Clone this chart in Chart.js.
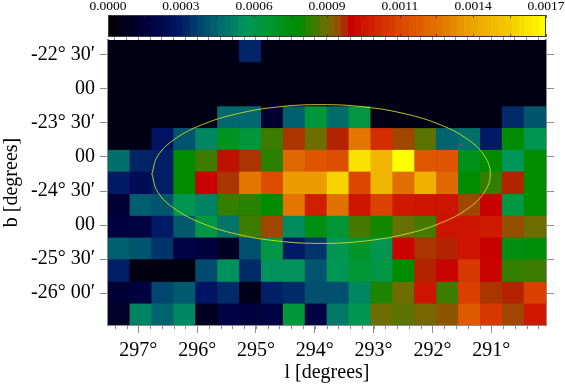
<!DOCTYPE html>
<html>
<head>
<meta charset="utf-8">
<script src="https://cdn.jsdelivr.net/npm/chart.js@4"></script>
<style>
html,body{margin:0;padding:0;background:#fff;overflow:hidden}
#wrap{position:relative;width:565px;height:384px}
canvas{position:absolute;left:0;top:0}
</style>
</head>
<body>
<div id="wrap">
<canvas id="map" width="565" height="384"></canvas>
<canvas id="bar" width="565" height="40"></canvas>
</div>
<script>
const UNIT = 1e-5;
const lonCenters = [297.33,296.96,296.59,296.21,295.84,295.47,295.10,294.73,294.35,293.98,293.61,293.24,292.87,292.49,292.12,291.75,291.38,291.01,290.63,290.26];
const latEdges = [-22.28,-22.60,-22.92,-23.25,-23.57,-23.89,-24.21,-24.54,-24.86,-25.18,-25.50,-25.83,-26.15,-26.47];
const row0  = [5,5,5,5,5,5,30,5,5,5,5,5,5,5,5,5,5,5,5,5];
const row1  = [5,5,5,5,5,5,5,5,5,5,5,5,5,5,5,5,5,5,5,5];
const row2  = [5,5,5,5,5,5,5,5,5,5,5,5,5,5,5,5,5,5,5,5];
const row3  = [5,5,5,5,5,43,43,12,41,60,44,58,5,5,5,5,5,5,31,39];
const row4  = [5,5,27,39,50,66,60,80,91,85,92,129,106,90,83,42,45,28,74,55];
const row5  = [45,30,29,74,80,93,91,78,125,118,116,162,148,170,119,118,68,74,53,74];
const row6  = [28,22,29,74,94,91,129,115,139,139,158,113,148,127,146,125,74,79,92,74];
const row7  = [13,41,39,55,49,79,78,74,129,102,128,99,112,100,99,99,90,94,58,74];
const row8  = [16,17,28,40,58,46,80,90,51,70,61,81,76,84,81,99,99,101,89,85];
const row9  = [41,39,33,17,16,9,38,58,28,33,55,64,55,95,91,92,99,94,70,72];
const row10 = [29,4,4,4,37,52,31,52,52,39,54,62,58,74,92,95,109,95,79,80];
const row11 = [13,16,36,40,27,31,6,29,31,38,38,50,77,85,99,80,111,91,92,111];
const row12 = [10,49,42,50,8,17,16,17,60,17,47,55,85,83,86,88,120,109,90,100];
const rows = [row0,row1,row2,row3,row4,row5,row6,row7,row8,row9,row10,row11,row12];

const xTickValues = [297,296,295,294,293,292,291];
const xTickLabels = ['297°','296°','295°','294°','293°','292°','291°'];
const yTickValues = [-22.5,-23,-23.5,-24,-24.5,-25,-25.5,-26];
const yTickLabels = ['-22° 30′','00','-23° 30′','00','-24° 30′','00','-25° 30′','-26° 00′'];
const cbTickValues = [0,0.000283,0.000567,0.00085,0.001133,0.001417,0.0017];
const cbTickLabels = ['0.0000','0.0003','0.0006','0.0009','0.0011','0.0014','0.0017'];

const ellipseLon = [296.769,296.671,296.384,295.927,295.331,294.637,293.893,293.149,292.455,291.859,291.402,291.115,291.017,291.115,291.402,291.859,292.455,293.149,293.893,294.637,295.331,295.927,296.384,296.671,296.769];
const ellipseLat = [-24.25,-23.986,-23.74,-23.529,-23.367,-23.265,-23.23,-23.265,-23.367,-23.529,-23.74,-23.986,-24.25,-24.514,-24.76,-24.971,-25.133,-25.235,-25.27,-25.235,-25.133,-24.971,-24.76,-24.514,-24.25];

const stopLevels = [0,15,27,36,42,49,53,62,74,85,90,94,99,113,127,140,155,170];
const stopColors = [[0,0,0],[0,0,60],[0,20,100],[0,70,110],[0,100,110],[0,130,100],[0,150,90],[0,150,50],[0,140,0],[110,110,0],[160,70,0],[200,0,0],[205,20,0],[220,70,0],[225,110,0],[235,160,0],[245,200,0],[255,255,0]];

function heat(v){
  let i = 0;
  while(i < stopLevels.length-2 && v > stopLevels[i+1]) i++;
  const f = Math.min(1,Math.max(0,(v-stopLevels[i])/(stopLevels[i+1]-stopLevels[i])));
  const a = stopColors[i], b = stopColors[i+1];
  return 'rgb('+a.map((c,k)=>Math.round(c+(b[k]-c)*f)).join(',')+')';
}

const FONT = '"Liberation Serif", "Times New Roman", serif';
const AXIS_GRAY = '#8c8c8c';
Chart.defaults.animation = false;
Chart.defaults.font.family = FONT;
Chart.defaults.color = '#000';

const datasets = rows.map((r,i)=>({
  type:'bar',
  label:'row'+i,
  data:r.map(()=>[latEdges[i+1],latEdges[i]]),
  backgroundColor:r.map(heat),
  xAxisID:'xc',
  yAxisID:'y',
  barPercentage:1,
  categoryPercentage:1,
  grouped:false,
  borderWidth:0,
  order:2
}));
datasets.push({
  type:'line',
  label:'ellipse',
  data:ellipseLon.map((l,i)=>({x:l,y:ellipseLat[i]})),
  xAxisID:'x',
  yAxisID:'y',
  borderColor:'rgba(225,225,30,0.85)',
  borderWidth:1,
  pointRadius:0,
  tension:0.4,
  fill:false,
  order:0
});

const plotBackdrop = {
  id:'plotBackdrop',
  beforeDatasetsDraw(chart){
    const a = chart.chartArea, c = chart.ctx;
    c.save();
    c.fillStyle = heat(5);
    c.fillRect(a.left,a.top,a.right-a.left,a.bottom-a.top);
    c.restore();
  }
};

const minorTicks = {
  id:'minorTicks',
  afterDraw(chart){
    const c = chart.ctx, s = chart.scales.x, a = chart.chartArea;
    c.save();
    c.strokeStyle = AXIS_GRAY;
    c.lineWidth = 1;
    for(let v=290.2; v<297.5; v+=0.2){
      const p = Math.round(s.getPixelForValue(v))+0.5;
      c.beginPath(); c.moveTo(p,a.bottom); c.lineTo(p,a.bottom+4); c.stroke();
    }
    c.restore();
  }
};

new Chart(document.getElementById('map'),{
  data:{labels:lonCenters,datasets},
  plugins:[plotBackdrop,minorTicks],
  options:{
    responsive:false,
    animation:false,
    layout:{padding:0},
    plugins:{legend:{display:false},tooltip:{enabled:false},title:{display:false}},
    scales:{
      xc:{type:'category',display:false,offset:true,stacked:false},
      x:{
        type:'linear',position:'bottom',reverse:true,min:290.07,max:297.515,
        afterBuildTicks:s=>{s.ticks=xTickValues.map(v=>({value:v}));},
        afterFit:s=>{s.height=59;},
        grid:{drawOnChartArea:false,drawTicks:true,tickLength:8,tickColor:AXIS_GRAY,tickWidth:1},
        border:{display:true,color:AXIS_GRAY,width:2},
        ticks:{font:{size:20},color:'#000',padding:6,maxRotation:0,
          callback:(v)=>xTickLabels[xTickValues.indexOf(v)]},
        title:{display:true,text:'l [degrees]',font:{size:20},color:'#000',padding:{top:-2,bottom:-1}}
      },
      xTop:{
        type:'linear',position:'top',reverse:true,min:290.07,max:297.515,
        afterFit:s=>{s.height=40;},
        afterBuildTicks:s=>{const t=[];for(let v=290.2;v<297.5;v+=0.2)t.push({value:v});s.ticks=t;},
        grid:{drawOnChartArea:false,tickLength:3,tickColor:AXIS_GRAY},
        border:{display:false},
        ticks:{display:false}
      },
      y:{
        type:'linear',position:'left',min:-26.47,max:-22.28,
        afterBuildTicks:s=>{s.ticks=yTickValues.map(v=>({value:v}));},
        afterFit:s=>{s.width=108;},
        grid:{drawOnChartArea:false,tickLength:8,tickColor:AXIS_GRAY},
        border:{display:true,color:AXIS_GRAY,width:2},
        ticks:{font:{size:20},color:'#000',padding:5,
          callback:(v)=>yTickLabels[yTickValues.indexOf(v)]},
        title:{display:true,text:'b [degrees]',font:{size:20},color:'#000',padding:{top:0,bottom:0}}
      },
      yRight:{
        type:'linear',position:'right',min:-26.47,max:-22.28,
        afterBuildTicks:s=>{s.ticks=yTickValues.map(v=>({value:v}));},
        afterFit:s=>{s.width=19;},
        grid:{drawOnChartArea:false,tickLength:8,tickColor:AXIS_GRAY},
        border:{display:true,color:AXIS_GRAY,width:2},
        ticks:{display:false}
      }
    }
  }
});

const cbMinor = {
  id:'cbMinor',
  afterDatasetsDraw(chart){
    const c = chart.ctx, s = chart.scales.x, a = chart.chartArea;
    c.save();
    c.strokeStyle = 'rgba(40,40,40,0.7)';
    c.lineWidth = 1;
    cbTickValues.forEach((v)=>{
      [v, v+0.0001415].forEach(w=>{
        if(w>0.00171) return;
        const p = Math.round(s.getPixelForValue(w))+0.5;
        c.beginPath(); c.moveTo(p,a.top); c.lineTo(p,a.top+3);
        c.moveTo(p,a.bottom); c.lineTo(p,a.bottom-3); c.stroke();
      });
    });
    c.strokeStyle = '#3a3a3a';
    c.strokeRect(a.left+0.5,a.top+0.5,a.right-a.left-1,a.bottom-a.top-1);
    c.restore();
  }
};

const BAND_COUNT = 64;

new Chart(document.getElementById('bar'),{
  type:'bar',
  data:{
    labels:['level'],
    datasets:[{
      data:[[0,0.0017]],
      barPercentage:1,categoryPercentage:1,borderWidth:0,
      backgroundColor:(ctx)=>{
        const area = ctx.chart.chartArea;
        if(!area) return '#000';
        const g = ctx.chart.ctx.createLinearGradient(area.left,0,area.right,0);
        for(let i=0;i<BAND_COUNT;i++){
          const col = heat(170*(i+0.5)/BAND_COUNT);
          g.addColorStop(i/BAND_COUNT,col);
          g.addColorStop((i+1)/BAND_COUNT,col);
        }
        return g;
      }
    }]
  },
  plugins:[cbMinor],
  options:{
    indexAxis:'y',
    responsive:false,
    animation:false,
    layout:{padding:0},
    plugins:{legend:{display:false},tooltip:{enabled:false}},
    scales:{
      x:{
        type:'linear',position:'top',min:0,max:0.0017,
        afterBuildTicks:s=>{s.ticks=cbTickValues.map(v=>({value:v}));},
        afterFit:s=>{s.height=15;},
        grid:{display:false,drawTicks:false},
        border:{display:false},
        ticks:{font:{size:13.5},color:'#000',padding:0,maxRotation:0,
          callback:(v)=>cbTickLabels[cbTickValues.indexOf(v)]}
      },
      y:{
        type:'category',position:'left',
        afterFit:s=>{s.width=108;},
        grid:{display:false},border:{display:false},ticks:{display:false}
      },
      yR:{
        type:'linear',position:'right',display:true,
        afterFit:s=>{s.width=19;},
        grid:{display:false},border:{display:false},ticks:{display:false}
      },
      xB:{
        type:'linear',position:'bottom',display:true,
        afterFit:s=>{s.height=3;},
        grid:{display:false},border:{display:false},ticks:{display:false}
      }
    }
  }
});
</script>
</body>
</html>
